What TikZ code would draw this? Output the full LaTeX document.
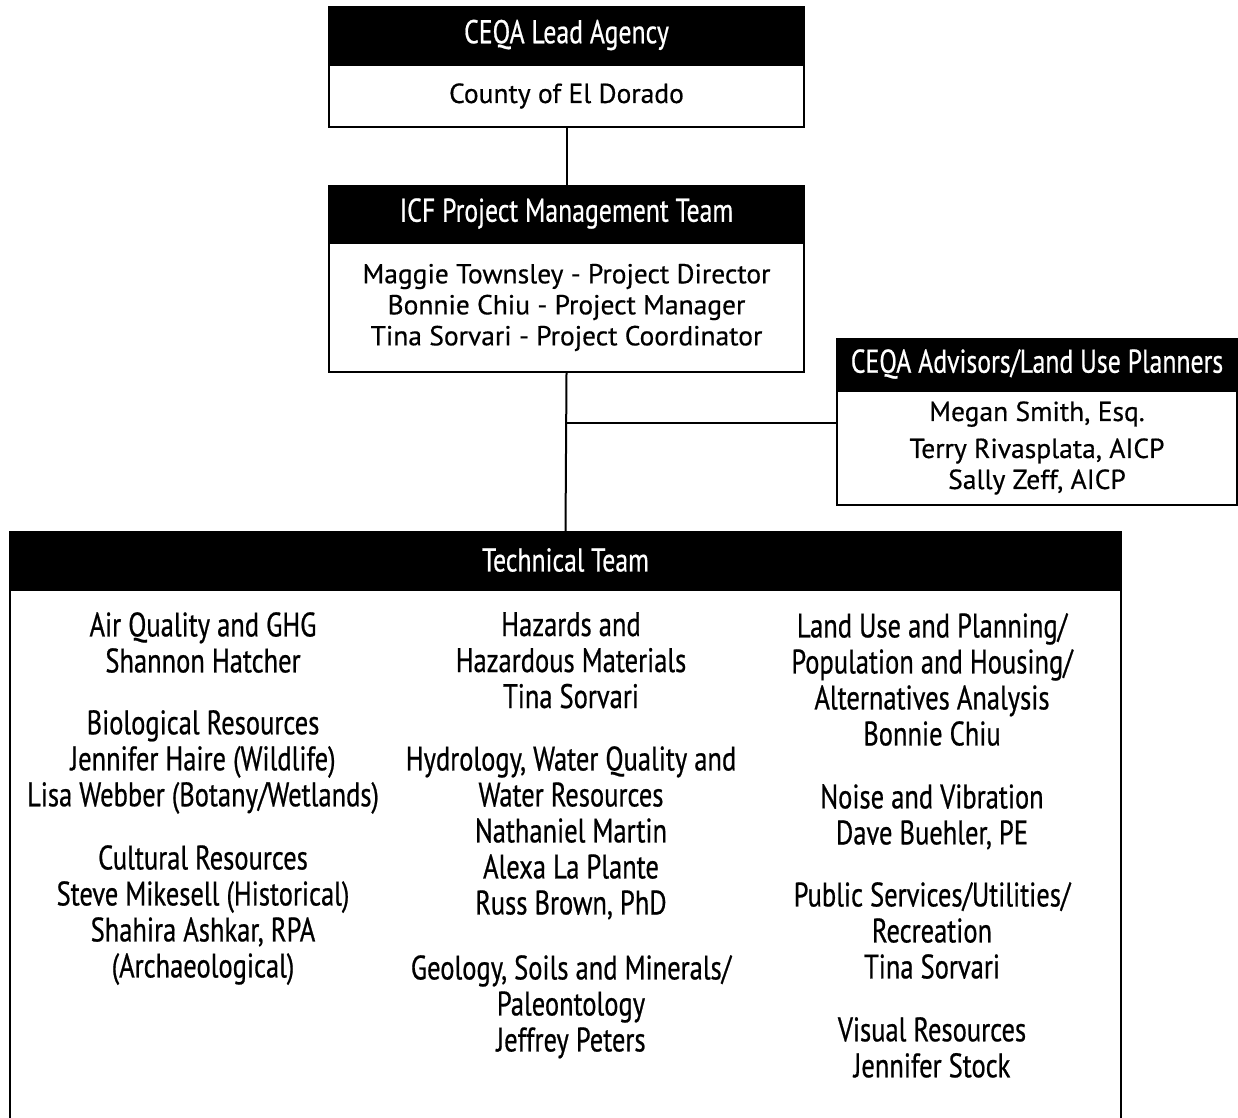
\documentclass[tikz,border=0pt]{standalone}
\usepackage{fontspec}
\setmainfont{PT Sans}
\newfontfamily\narrowfont[FakeStretch=0.78,FakeBold=0.6]{PT Sans}
\newfontfamily\plainfont[FakeBold=0.5]{PT Sans}

\tikzset{
  headbar/.style={fill=black, draw=black, line width=2pt, text=white,
    font=\narrowfont\fontsize{33}{33}\selectfont, inner sep=0pt},
  bodybox/.style={draw=black, line width=2pt, fill=white, align=center,
    font=\plainfont\fontsize{27.5}{31}\selectfont, inner sep=0pt},
  techtext/.style={align=center, anchor=north, inner sep=0pt,
    font=\narrowfont\fontsize{34}{36}\selectfont},
  link/.style={line width=2pt},
}

\begin{document}
\begin{tikzpicture}[x=1pt,y=-1pt]
\useasboundingbox (0,0) rectangle (1238,1117);
\clip (0,0) rectangle (1238,1117);

% lead agency
\node[headbar, minimum width=475pt, minimum height=56pt, anchor=north west] (leadhead) at (328,6) {CEQA Lead Agency};
\node[bodybox, minimum width=475pt, minimum height=62pt, anchor=north] (leadbody) at (leadhead.south) {County of El Dorado};

% project management
\node[headbar, minimum width=475pt, minimum height=55pt, anchor=north west] (icfhead) at (328,185) {ICF Project Management Team};
\node[bodybox, minimum width=475pt, minimum height=129pt, anchor=north] (icfbody) at (icfhead.south) {Maggie Townsley - Project Director\\Bonnie Chiu - Project Manager\\Tina Sorvari - Project Coordinator};

% advisors
\node[headbar, minimum width=400pt, minimum height=50pt, anchor=north west] (advhead) at (836,338) {CEQA Advisors/Land Use Planners};
\node[bodybox, minimum width=400pt, minimum height=114pt, anchor=north] (advbody) at (advhead.south) {Megan Smith, Esq.\\[6pt]Terry Rivasplata, AICP\\Sally Zeff, AICP};

% technical team
\node[headbar, minimum width=1111pt, minimum height=56pt, anchor=north west] (techhead) at (9,531) {Technical Team};
\node[bodybox, minimum width=1111pt, minimum height=560pt, anchor=north] (techbody) at (techhead.south) {};

\draw[link] (leadbody.south) -- (icfhead.north);
\draw[link] (icfbody.south) -- (techhead.north);
\coordinate (split) at (icfbody.south |- 0,423);
\draw[link] (split) -- (split -| advbody.west);

% column 1
\node[techtext] (airq) at (203,612) {Air Quality and GHG\\Shannon Hatcher};
\node[techtext] (biores) at (203,710) {Biological Resources\\Jennifer Haire (Wildlife)\\Lisa Webber (Botany/Wetlands)};
\node[techtext] (culres) at (203,845) {Cultural Resources\\Steve Mikesell (Historical)\\Shahira Ashkar, RPA\\(Archaeological)};

% column 2
\node[techtext] (hazmat) at (571,612) {Hazards and\\Hazardous Materials\\Tina Sorvari};
\node[techtext] (hydro) at (571,746) {Hydrology, Water Quality and\\Water Resources\\Nathaniel Martin\\Alexa La Plante\\Russ Brown, PhD};
\node[techtext] (geology) at (571,955) {Geology, Soils and Minerals/\\Paleontology\\Jeffrey Peters};

% column 3
\node[techtext] (landuse) at (932,613) {Land Use and Planning/\\Population and Housing/\\Alternatives Analysis\\Bonnie Chiu};
\node[techtext] (noise) at (932,784) {Noise and Vibration\\Dave Buehler, PE};
\node[techtext] (pubserv) at (932,882) {Public Services/Utilities/\\Recreation\\Tina Sorvari};
\node[techtext] (visual) at (932,1017) {Visual Resources\\Jennifer Stock};
\end{tikzpicture}
\end{document}
